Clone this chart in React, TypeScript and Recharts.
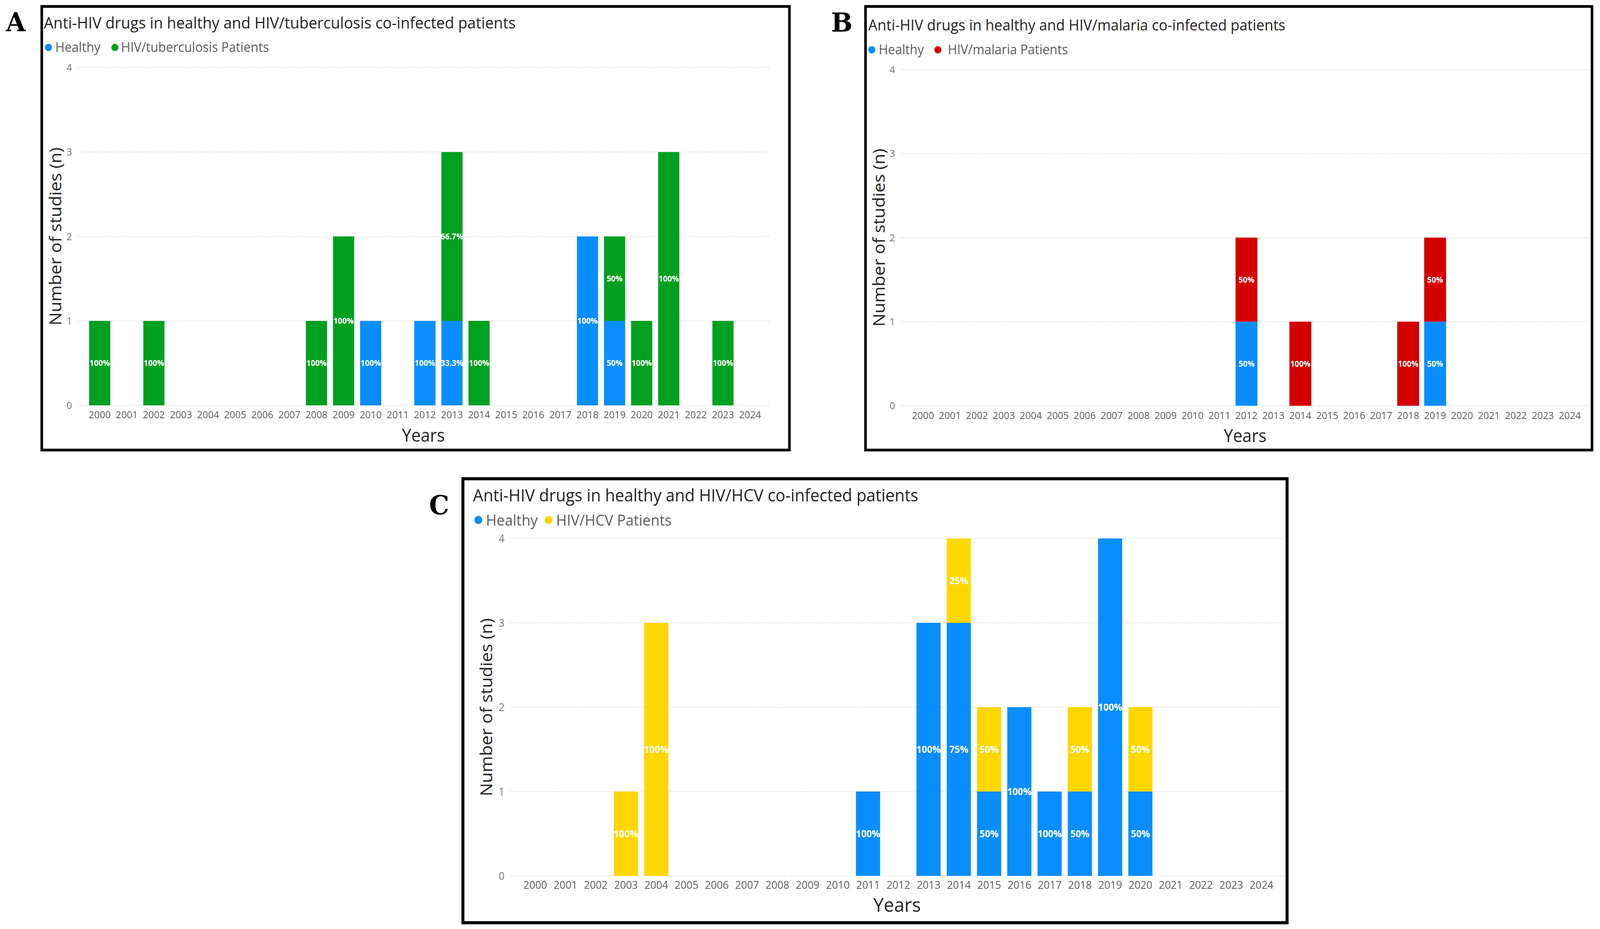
import { BarChart, Bar, XAxis, YAxis, CartesianGrid, LabelList } from "recharts";

// categories
const YEARS = [
	"2000", "2001", "2002", "2003", "2004", "2005", "2006", "2007", "2008", "2009",
	"2010", "2011", "2012", "2013", "2014", "2015", "2016", "2017", "2018", "2019",
	"2020", "2021", "2022", "2023", "2024",
];
const Y_TICKS = [0, 1, 2, 3, 4];

// A: HIV/tuberculosis
const TB_HEALTHY = [0, 0, 0, 0, 0, 0, 0, 0, 0, 0, 1, 0, 1, 1, 0, 0, 0, 0, 2, 1, 0, 0, 0, 0, 0];
const TB_PATIENTS = [1, 0, 1, 0, 0, 0, 0, 0, 1, 2, 0, 0, 0, 2, 1, 0, 0, 0, 0, 1, 1, 3, 0, 1, 0];

// B: HIV/malaria
const MAL_HEALTHY = [0, 0, 0, 0, 0, 0, 0, 0, 0, 0, 0, 0, 1, 0, 0, 0, 0, 0, 0, 1, 0, 0, 0, 0, 0];
const MAL_PATIENTS = [0, 0, 0, 0, 0, 0, 0, 0, 0, 0, 0, 0, 1, 0, 1, 0, 0, 0, 1, 1, 0, 0, 0, 0, 0];

// C: HIV/HCV
const HCV_HEALTHY = [0, 0, 0, 0, 0, 0, 0, 0, 0, 0, 0, 1, 0, 3, 3, 1, 2, 1, 1, 4, 1, 0, 0, 0, 0];
const HCV_PATIENTS = [0, 0, 0, 1, 3, 0, 0, 0, 0, 0, 0, 0, 0, 0, 1, 1, 0, 0, 1, 0, 1, 0, 0, 0, 0];

const HEALTHY_COLOR = "#0A8EFF";
const TB_COLOR = "#00A020";
const MAL_COLOR = "#D40000";
const HCV_COLOR = "#FFD700";

const FONT = "'Open Sans', 'Noto Sans', sans-serif";
const DARK = "#252423";
const GREY = "#605E5C";
const TOP_PAD = 30;
const PAGE_W = 4310;
const PAGE_H = 2379;

const pct = (v: number, total: number) => `${Number(((v / total) * 100).toFixed(1))}%`;

function buildRows(healthy: number[], patients: number[]) {
	return YEARS.map((year, i) => {
		const h = healthy[i];
		const p = patients[i];
		const total = h + p;
		return {
			year,
			healthy: h || null,
			patients: p || null,
			healthyPct: h ? pct(h, total) : null,
			patientsPct: p ? pct(p, total) : null,
		};
	});
}

type PanelProps = {
	letter: string;
	letterX: number;
	letterY: number;
	box: { left: number; top: number; right: number; bottom: number; border: number };
	title: string;
	titleX: number;
	titleY: number;
	titleSize: number;
	legendY: number;
	legendSize: number;
	dot: number;
	legend: { label: string; color: string; dotX: number; textX: number }[];
	rows: ReturnType<typeof buildRows>;
	patientColor: string;
	// plot rectangle (grid area) in page pixels
	plot: { left: number; top: number; right: number; bottom: number };
	axisLeft: number;
	yearsBaseline: number;
	padL: number;
	padR: number;
	barSize: number;
	xTickSize: number;
	xTickMargin: number;
	yTickSize: number;
	axisTitleSize: number;
	yearsSize: number;
	labelSize: number;
};

function Panel(p: PanelProps) {
	const { box, plot } = p;
	const yearsOffset = 20;
	const xAxisHeight = p.yearsBaseline - plot.bottom + yearsOffset;
	const chartHeight = TOP_PAD + (plot.bottom - plot.top) + xAxisHeight;
	return (
		<>
			<div
				style={{
					position: "absolute",
					left: box.left,
					top: box.top,
					width: box.right - box.left,
					height: box.bottom - box.top,
					boxSizing: "border-box",
					border: `${box.border}px solid #000`,
					background: "#fff",
				}}
			/>
			<div
				style={{
					position: "absolute",
					left: p.letterX,
					top: p.letterY,
					fontFamily: "'DejaVu Serif', serif",
					fontWeight: 700,
					fontSize: 68,
					lineHeight: 1,
					color: "#000",
				}}
			>
				{p.letter}
			</div>
			<div
				style={{
					position: "absolute",
					left: p.titleX,
					top: p.titleY - 0.531 * p.titleSize,
					fontFamily: FONT,
					fontSize: p.titleSize,
					lineHeight: 1,
					color: DARK,
					whiteSpace: "nowrap",
				}}
			>
				{p.title}
			</div>
			{p.legend.map((item) => (
				<div key={item.label}>
					<div
						style={{
							position: "absolute",
							left: item.dotX - p.dot / 2,
							top: p.legendY - p.dot / 2,
							width: p.dot,
							height: p.dot,
							borderRadius: "50%",
							background: item.color,
						}}
					/>
					<div
						style={{
							position: "absolute",
							left: item.textX,
							top: p.legendY - 0.531 * p.legendSize,
							fontFamily: FONT,
							fontSize: p.legendSize,
							lineHeight: 1,
							color: GREY,
							whiteSpace: "nowrap",
						}}
					>
						{item.label}
					</div>
				</div>
			))}
			<div style={{ position: "absolute", left: p.axisLeft, top: plot.top - TOP_PAD, fontFamily: FONT }}>
				<BarChart
					width={plot.right - p.axisLeft}
					height={chartHeight}
					data={p.rows}
					margin={{ top: TOP_PAD, right: 0, left: 0, bottom: 0 }}
				>
					<CartesianGrid vertical={false} stroke="#DDDDDD" strokeWidth={2} strokeDasharray="3 3" />
					<XAxis
						dataKey="year"
						type="category"
						interval={0}
						axisLine={false}
						tickLine={false}
						tickSize={0}
						tickMargin={p.xTickMargin}
						height={xAxisHeight}
						padding={{ left: p.padL, right: p.padR }}
						tick={{ fill: GREY, fontSize: p.xTickSize }}
						label={{
							value: "Years",
							position: "insideBottom",
							offset: yearsOffset,
							fill: DARK,
							fontSize: p.yearsSize,
						}}
					/>
					<YAxis
						type="number"
						domain={[0, 4]}
						ticks={Y_TICKS}
						width={plot.left - p.axisLeft}
						axisLine={false}
						tickLine={false}
						tickSize={0}
						tickMargin={15}
						tick={{ fill: "#777777", fontSize: p.yTickSize }}
						label={{
							value: "Number of studies (n)",
							angle: -90,
							position: "center",
							fill: DARK,
							fontSize: p.axisTitleSize,
						}}
					/>
					<Bar dataKey="healthy" stackId="s" fill={HEALTHY_COLOR} barSize={p.barSize} isAnimationActive={false}>
						<LabelList dataKey="healthyPct" position="center" fill="#fff" fontSize={p.labelSize} fontWeight={700} />
					</Bar>
					<Bar dataKey="patients" stackId="s" fill={p.patientColor} barSize={p.barSize} isAnimationActive={false}>
						<LabelList dataKey="patientsPct" position="center" fill="#fff" fontSize={p.labelSize} fontWeight={700} />
					</Bar>
				</BarChart>
			</div>
		</>
	);
}

export default function App() {
	// the browser may cap the window below 4310px wide; squeeze horizontally so nothing is cut off
	const sx = typeof window !== "undefined" ? Math.min(1, window.innerWidth / PAGE_W) : 1;
	return (
		<div
			style={{
				position: "absolute",
				left: 0,
				top: 0,
				width: PAGE_W,
				height: PAGE_H,
				background: "#fff",
				overflow: "hidden",
				transform: `scaleX(${sx})`,
				transformOrigin: "0 0",
			}}
		>
			<Panel
				letter="A"
				letterX={16}
				letterY={22}
				box={{ left: 109, top: 13, right: 2130, bottom: 1156, border: 7 }}
				title="Anti-HIV drugs in healthy and HIV/tuberculosis co-infected patients"
				titleX={118}
				titleY={59}
				titleSize={41}
				legendY={121.5}
				legendSize={34}
				dot={19}
				legend={[
					{ label: "Healthy", color: HEALTHY_COLOR, dotX: 130.5, textX: 149 },
					{ label: "HIV/tuberculosis Patients", color: TB_COLOR, dotX: 309, textX: 326 },
				]}
				rows={buildRows(TB_HEALTHY, TB_PATIENTS)}
				patientColor={TB_COLOR}
				plot={{ left: 209, top: 173, right: 2072, bottom: 1038 }}
				axisLeft={89}
				yearsBaseline={1131}
				padL={23}
				padR={15}
				barSize={57}
				xTickSize={26}
				xTickMargin={15}
				yTickSize={26}
				axisTitleSize={45}
				yearsSize={45}
				labelSize={21}
			/>
			<Panel
				letter="B"
				letterX={2239}
				letterY={23}
				box={{ left: 2328, top: 13, right: 4292, bottom: 1156, border: 7 }}
				title="Anti-HIV drugs in healthy and HIV/malaria co-infected patients"
				titleX={2339}
				titleY={64}
				titleSize={39}
				legendY={127}
				legendSize={34}
				dot={19}
				legend={[
					{ label: "Healthy", color: HEALTHY_COLOR, dotX: 2348, textX: 2367 },
					{ label: "HIV/malaria Patients", color: MAL_COLOR, dotX: 2526, textX: 2553 },
				]}
				rows={buildRows(MAL_HEALTHY, MAL_PATIENTS)}
				patientColor={MAL_COLOR}
				plot={{ left: 2426, top: 178, right: 4282, bottom: 1039 }}
				axisLeft={2308}
				yearsBaseline={1132}
				padL={24}
				padR={17}
				barSize={59}
				xTickSize={26}
				xTickMargin={16}
				yTickSize={26}
				axisTitleSize={45}
				yearsSize={45}
				labelSize={21}
			/>
			<Panel
				letter="C"
				letterX={1156}
				letterY={1259}
				box={{ left: 1243, top: 1222, right: 3471, bottom: 2367, border: 8 }}
				title="Anti-HIV drugs in healthy and HIV/HCV co-infected patients"
				titleX={1274}
				titleY={1268.5}
				titleSize={44}
				legendY={1331.5}
				legendSize={39}
				dot={21}
				legend={[
					{ label: "Healthy", color: HEALTHY_COLOR, dotX: 1288, textX: 1309 },
					{ label: "HIV/HCV Patients", color: HCV_COLOR, dotX: 1477, textX: 1498 },
				]}
				rows={buildRows(HCV_HEALTHY, HCV_PATIENTS)}
				patientColor={HCV_COLOR}
				plot={{ left: 1374, top: 1379, right: 3459, bottom: 2243 }}
				axisLeft={1245}
				yearsBaseline={2335}
				padL={27}
				padR={20}
				barSize={65}
				xTickSize={28}
				xTickMargin={13}
				yTickSize={27}
				axisTitleSize={45}
				yearsSize={50}
				labelSize={25}
			/>
		</div>
	);
}
